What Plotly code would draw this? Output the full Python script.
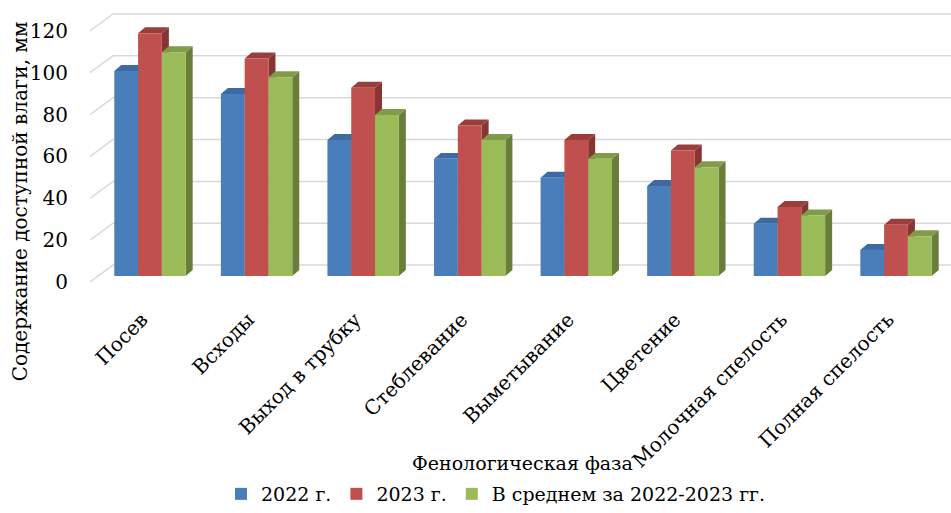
import plotly.graph_objects as go

categories = ["Посев", "Всходы", "Выход в трубку", "Стеблевание",
              "Выметывание", "Цветение", "Молочная спелость", "Полная спелость"]
y2022 = [98, 87, 65, 56, 47, 43, 25, 12.5]
y2023 = [116, 104, 90, 72, 65, 60, 33, 24.5]
yavg = [107, 95, 77, 65, 56, 52, 29, 19]
series_names = ["2022 г.", "2023 г.", "В среднем за 2022-2023 гг."]
y_ticks = [0, 20, 40, 60, 80, 100, 120]

front_colors = ["#4a7ebb", "#c0504d", "#9bbb59"]
top_colors = ["#3d6aa3", "#9a3e3c", "#809c4a"]
side_colors = ["#345c8e", "#873533", "#687e39"]

FONT = "DejaVu Serif"
# geometry (pixels -> data units)
px_x = 106.6          # px per category
px_y = 2.1            # px per value unit
L, R, T, B = 90, 951, 5, 290
x_range = [-(150 - L) / px_x, 7 + (R - 896) / px_x]
y_range = [-(B - 277) / px_y, (277 - T) / px_y]
bw = 23.8 / px_x
dx = 7 / px_x
dy = 6 / px_y

fig = go.Figure()
shapes = []

# back-wall gridlines
xl_front = x_range[0]
xl_back = x_range[0] + 23 / px_x
for t in y_ticks:
    yf = t - 6 / px_y
    yb = t + 11 / px_y
    shapes.append(dict(type="path", layer="below", xref="x", yref="y",
                       path=f"M {xl_front},{yf} L {xl_back},{yb} L {x_range[1]},{yb}",
                       line=dict(color="#d9d9d9", width=1.5)))

data = [y2022, y2023, yavg]
for k, vals in enumerate(data):
    xs = [i + (k - 1) * bw for i in range(len(categories))]
    fig.add_trace(go.Bar(x=xs, y=vals, width=bw, name=series_names[k],
                         marker=dict(color=front_colors[k], line=dict(width=0)),
                         hoverinfo="skip"))

# 3D faces drawn behind front faces
for i in range(len(categories)):
    for k, vals in enumerate(data):
        v = vals[i]
        x0 = i + (k - 1) * bw - bw / 2
        x1 = x0 + bw
        shapes.append(dict(type="path", layer="below", xref="x", yref="y",
                           path=f"M {x1},0 L {x1},{v} L {x1+dx},{v+dy} L {x1+dx},{dy} Z",
                           fillcolor=side_colors[k], line=dict(width=0)))
        shapes.append(dict(type="path", layer="below", xref="x", yref="y",
                           path=f"M {x0},{v} L {x1},{v} L {x1+dx},{v+dy} L {x0+dx},{v+dy} Z",
                           fillcolor=top_colors[k], line=dict(width=0)))

# invisible trace for tick-label axis
fig.add_trace(go.Scatter(x=[None], y=[None], yaxis="y2", showlegend=False, hoverinfo="skip"))

W, H = 951, 513
plot_w = R - L
plot_h = B - T
label_shift = 8 / px_x

fig.update_layout(
    width=W, height=H,
    margin=dict(l=L, r=W - R, t=T, b=H - B),
    paper_bgcolor="white", plot_bgcolor="white",
    barmode="overlay",
    font=dict(family=FONT, size=20, color="#000000"),
    shapes=shapes,
    xaxis=dict(range=x_range, tickmode="array",
               tickvals=[i - label_shift for i in range(len(categories))],
               ticktext=categories, tickangle=-45, showgrid=False, zeroline=False,
               showline=False, ticks="", ticklabelstandoff=14,
               tickfont=dict(family=FONT, size=20, color="#000000")),
    yaxis=dict(range=y_range, showgrid=False, zeroline=False, showline=False,
               showticklabels=False, ticks=""),
    yaxis2=dict(range=[y_range[0] + 6 / px_y, y_range[1] + 6 / px_y], overlaying="y",
                side="left", tickmode="array", tickvals=y_ticks, showgrid=False,
                zeroline=False, showline=False, ticks="", ticklabelstandoff=21,
                tickfont=dict(family=FONT, size=20, color="#000000")),
    legend=dict(orientation="h", x=(496 - L) / plot_w, xanchor="center",
                y=(B - 495) / plot_h, yanchor="middle",
                font=dict(family=FONT, size=19, color="#000000"),
                itemwidth=30, traceorder="normal"),
    annotations=[
        dict(text="Содержание доступной влаги, мм", textangle=-90, showarrow=False,
             xref="paper", yref="paper", x=(20 - L) / plot_w, y=(B - 202) / plot_h,
             xanchor="center", yanchor="middle",
             font=dict(family=FONT, size=20, color="#000000")),
        dict(text="Фенологическая фаза", showarrow=False,
             xref="paper", yref="paper", x=(522 - L) / plot_w, y=(B - 465) / plot_h,
             xanchor="center", yanchor="middle",
             font=dict(family=FONT, size=19, color="#000000")),
    ],
    hovermode=False,
)

fig.write_html("out.html")
